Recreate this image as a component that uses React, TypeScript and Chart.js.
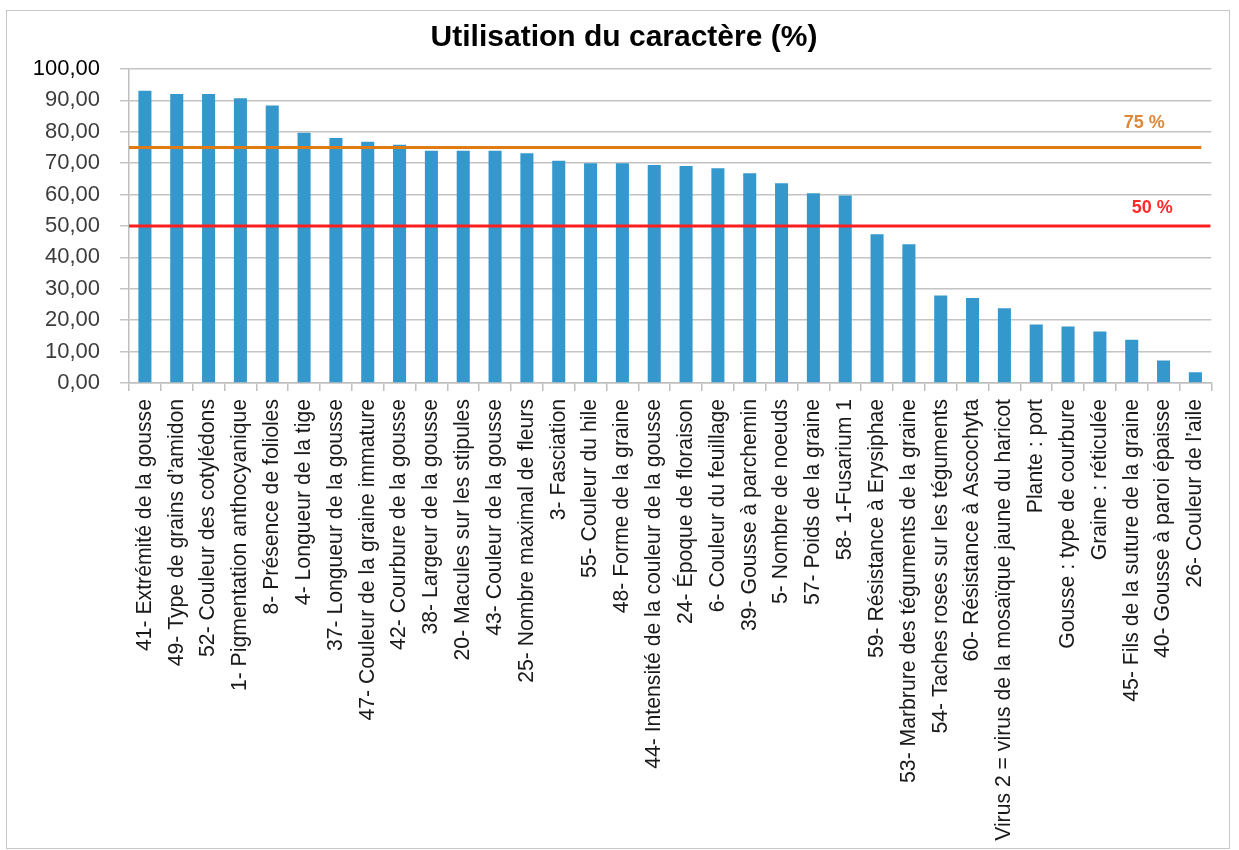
import React, { useEffect, useRef } from 'react';
import { Chart, registerables } from 'chart.js';

Chart.register(...registerables);

const chartTitle = 'Utilisation du caractère (%)';

const categories = [
  '41- Extrémité de la gousse',
  '49- Type de grains d’amidon',
  '52- Couleur des cotylédons',
  '1- Pigmentation anthocyanique',
  '8- Présence de folioles',
  '4- Longueur de la tige',
  '37- Longueur de la gousse',
  '47- Couleur de la graine immature',
  '42- Courbure de la gousse',
  '38- Largeur de la gousse',
  '20- Macules sur les stipules',
  '43- Couleur de la gousse',
  '25- Nombre maximal de fleurs',
  '3- Fasciation',
  '55- Couleur du hile',
  '48- Forme de la graine',
  '44- Intensité de la couleur de la gousse',
  '24- Époque de floraison',
  '6- Couleur du feuillage',
  '39- Gousse à parchemin',
  '5- Nombre de noeuds',
  '57- Poids de la graine',
  '58- 1-Fusarium 1',
  '59- Résistance à Erysiphae',
  '53- Marbrure des téguments de la graine',
  '54- Taches roses sur les téguments',
  '60- Résistance à Ascochyta',
  'Virus 2 = virus de la mosaïque jaune du haricot',
  'Plante : port',
  'Gousse : type de courbure',
  'Graine : réticulée',
  '45- Fils de la suture de la graine',
  '40- Gousse à paroi épaisse',
  '26- Couleur de l’aile',
];

const utilisation = [
  93.1, 92.0, 92.0, 90.7, 88.4, 79.7, 78.0, 76.8, 75.9, 74.0, 74.0, 74.0,
  73.2, 70.8, 70.0, 70.0, 69.4, 69.1, 68.4, 66.8, 63.6, 60.4, 59.7, 47.4,
  44.2, 27.9, 27.1, 23.8, 18.6, 18.0, 16.4, 13.8, 7.2, 3.4,
];

const yMin = 0;
const yMax = 100;
const yStep = 10;

const thresholdValues = [75, 50];
const thresholdLabels = ['75 %', '50 %'];
const thresholdLineColors = ['#E07A12', '#FF1E1E'];
const thresholdTextColors = ['#E0873A', '#FF2A2A'];

const FONT = 'Arial, "Liberation Sans", Helvetica, sans-serif';

// style constants for the overlay (pixels)
const lineEndInset = [10, 1];
const labelInset = [67, 59];
const labelRise = [24, 18];

const overlayPlugin = {
  id: 'overlay',
  afterDatasetsDraw(chart: any) {
    const { ctx, chartArea, scales } = chart;
    const y = scales.y;
    thresholdValues.forEach((v, i) => {
      const py = y.getPixelForValue(v);
      ctx.save();
      ctx.strokeStyle = thresholdLineColors[i];
      ctx.lineWidth = 3;
      ctx.beginPath();
      ctx.moveTo(chartArea.left, py);
      ctx.lineTo(chartArea.right - lineEndInset[i], py);
      ctx.stroke();
      ctx.font = `bold 18px ${FONT}`;
      ctx.fillStyle = thresholdTextColors[i];
      ctx.textAlign = 'center';
      ctx.textBaseline = 'middle';
      ctx.fillText(thresholdLabels[i], chartArea.right - labelInset[i], py - labelRise[i]);
      ctx.restore();
    });
  },
  afterDraw(chart: any) {
    const { ctx } = chart;
    ctx.save();
    ctx.font = `bold 30px ${FONT}`;
    ctx.fillStyle = '#000000';
    ctx.textAlign = 'center';
    ctx.textBaseline = 'middle';
    ctx.fillText(chartTitle, chart.width / 2 + 6, 27);
    ctx.restore();
  },
};

export default function App() {
  const canvasRef = useRef<HTMLCanvasElement | null>(null);

  useEffect(() => {
    if (!canvasRef.current) return;
    const chart = new Chart(canvasRef.current, {
      type: 'bar',
      data: {
        labels: categories,
        datasets: [
          {
            label: chartTitle,
            data: utilisation,
            backgroundColor: '#3498CC',
            borderWidth: 0,
            barPercentage: 0.41,
            categoryPercentage: 1,
          },
        ],
      },
      options: {
        responsive: false,
        animation: false,
        layout: { padding: { top: 58, right: 12, bottom: 0, left: 0 } },
        plugins: {
          legend: { display: false },
          title: { display: false },
          tooltip: { enabled: false },
        },
        scales: {
          x: {
            offset: true,
            grid: {
              offset: true,
              drawOnChartArea: false,
              drawTicks: true,
              tickLength: 8,
              color: '#bfbfbf',
              lineWidth: 1.5,
            },
            border: { display: true, color: '#bfbfbf', width: 1.5 },
            ticks: {
              autoSkip: false,
              minRotation: 90,
              maxRotation: 90,
              padding: 8,
              color: '#1a1a1a',
              font: { family: FONT, size: 21.2 },
            },
            afterFit(scale: any) {
              scale.height = 465;
            },
          },
          y: {
            min: yMin,
            max: yMax,
            grid: {
              color: '#c4c4c4',
              lineWidth: 1.5,
              tickLength: 9,
              drawTicks: true,
            },
            border: { display: true, color: '#bfbfbf', width: 1.5 },
            ticks: {
              stepSize: yStep,
              padding: 20,
              color: (c: any) => (c.tick && c.tick.value === yMax ? '#000000' : '#3c3c3c'),
              font: { family: FONT, size: 22 },
              callback: (v: any) => Number(v).toFixed(2).replace('.', ','),
            },
            afterFit(scale: any) {
              scale.width = 122;
            },
          },
        },
      },
      plugins: [overlayPlugin],
    });
    return () => chart.destroy();
  }, []);

  return (
    <div
      style={{
        position: 'absolute',
        left: 6,
        top: 10,
        width: 1222,
        height: 837,
        border: '1px solid #c8c8c8',
        background: '#ffffff',
      }}
    >
      <canvas ref={canvasRef} width={1222} height={837} style={{ display: 'block' }} />
    </div>
  );
}
